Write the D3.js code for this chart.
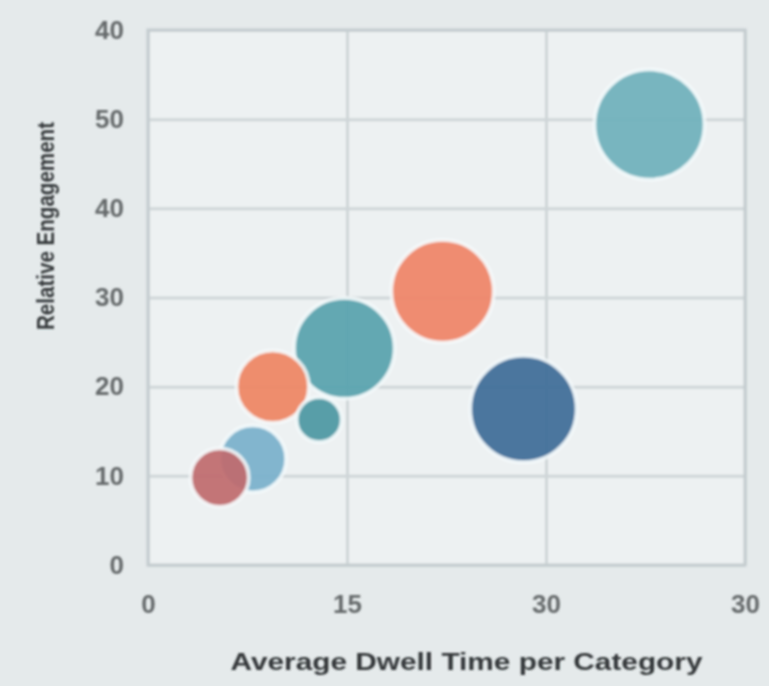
<!DOCTYPE html>
<html>
<head>
<meta charset="utf-8">
<script src="https://cdn.jsdelivr.net/npm/d3@7"></script>
<style>
  html, body { margin: 0; padding: 0; background: #e5eaeb; }
  svg { display: block; }
</style>
</head>
<body>
<svg id="chart" width="769" height="686"></svg>
<script>
// bubble values
const xValues = [37.8, 22.2, 14.8, 28.3, 9.4, 12.9, 7.9, 5.4];
const yValues = [49.4, 30.7, 24.3, 17.5, 20.0, 16.3, 11.9, 9.8];
const sizes = [30, 26, 25, 28, 13, 5, 11, 8.4];
const colors = ['#6fb0bb', '#ef8467', '#58a3ad', '#3e6d98', '#ee8563', '#4d98a3', '#7ab0cb', '#bf6a6e'];

const xTicks = [0, 15, 30, 45];
const xTickLabels = ['0', '15', '30', '30'];
const yTicks = [0, 10, 20, 30, 40, 50, 60];
const yTickLabels = ['0', '10', '20', '30', '40', '50', '40'];

const xTitle = 'Average Dwell Time per Category';
const yTitle = 'Relative Engagement';

const margin = { top: 30, right: 24, bottom: 121, left: 148 };
const width = 769 - margin.left - margin.right;
const height = 686 - margin.top - margin.bottom;

const xScale = d3.scaleLinear().domain([0, 45]).range([0, width]);
const yScale = d3.scaleLinear().domain([0, 60]).range([height, 0]);
const rScale = d3.scaleSqrt().domain([0, 30]).range([0, 55]);

const svgEl = d3.select('#chart');
const defs = svgEl.append('defs');
defs.append('filter').attr('id', 'soft')
    .append('feGaussianBlur').attr('stdDeviation', 0.9);

const svg = svgEl.append('g')
    .attr('transform', `translate(${margin.left},${margin.top})`)
    .attr('filter', 'url(#soft)');

// plot background
svg.append('rect')
    .attr('width', width)
    .attr('height', height)
    .attr('fill', '#edf1f2');

// horizontal grid + y labels
const yAxis = d3.axisLeft(yScale)
    .tickValues(yTicks)
    .tickSize(-width)
    .tickPadding(24)
    .tickFormat((d, i) => yTickLabels[i]);
const yAxisGroup = svg.append('g').call(yAxis);
yAxisGroup.select('.domain').remove();
yAxisGroup.selectAll('line').attr('stroke', '#cfd6d8').attr('stroke-width', 3);
yAxisGroup.selectAll('text')
    .attr('fill', '#666b6c')
    .attr('font-family', 'Liberation Sans, Arial, sans-serif')
    .attr('font-weight', 'bold')
    .attr('font-size', '26px');

// vertical grid + x labels
const xAxis = d3.axisBottom(xScale)
    .tickValues(xTicks)
    .tickSize(-height)
    .tickPadding(30)
    .tickFormat((d, i) => xTickLabels[i]);
const xAxisGroup = svg.append('g')
    .attr('transform', `translate(0,${height})`)
    .call(xAxis);
xAxisGroup.select('.domain').remove();
xAxisGroup.selectAll('line').attr('stroke', '#cfd6d8').attr('stroke-width', 3);
xAxisGroup.selectAll('text')
    .attr('fill', '#666b6c')
    .attr('font-family', 'Liberation Sans, Arial, sans-serif')
    .attr('font-weight', 'bold')
    .attr('font-size', '26px');

// plot frame
svg.append('rect')
    .attr('width', width)
    .attr('height', height)
    .attr('fill', 'none')
    .attr('stroke', '#c4cccf')
    .attr('stroke-width', 3);

// bubbles, biggest first so small ones sit on top
const bubbles = xValues.map((x, i) => ({ x, y: yValues[i], size: sizes[i], color: colors[i] }))
    .sort((a, b) => b.size - a.size);

svg.append('g')
    .selectAll('circle')
    .data(bubbles)
    .join('circle')
    .attr('cx', (d) => xScale(d.x))
    .attr('cy', (d) => yScale(d.y))
    .attr('r', (d) => rScale(d.size))
    .attr('fill', (d) => d.color)
    .attr('fill-opacity', 0.93)
    .attr('stroke', '#f6fbfc')
    .attr('stroke-opacity', 0.8)
    .attr('stroke-width', 4);

// axis titles
svg.append('text')
    .attr('x', width / 2 + 20)
    .attr('y', height + 105)
    .attr('text-anchor', 'middle')
    .attr('fill', '#34393a')
    .attr('font-family', 'Liberation Sans, Arial, sans-serif')
    .attr('font-weight', 'bold')
    .attr('font-size', '23px')
    .attr('textLength', 472)
    .attr('lengthAdjust', 'spacingAndGlyphs')
    .text(xTitle);

svg.append('text')
    .attr('transform', `translate(${-94},${196}) rotate(-90)`)
    .attr('text-anchor', 'middle')
    .attr('fill', '#34393a')
    .attr('font-family', 'Liberation Sans, Arial, sans-serif')
    .attr('font-weight', 'bold')
    .attr('font-size', '23px')
    .attr('textLength', 208)
    .attr('lengthAdjust', 'spacingAndGlyphs')
    .text(yTitle);
</script>
</body>
</html>
